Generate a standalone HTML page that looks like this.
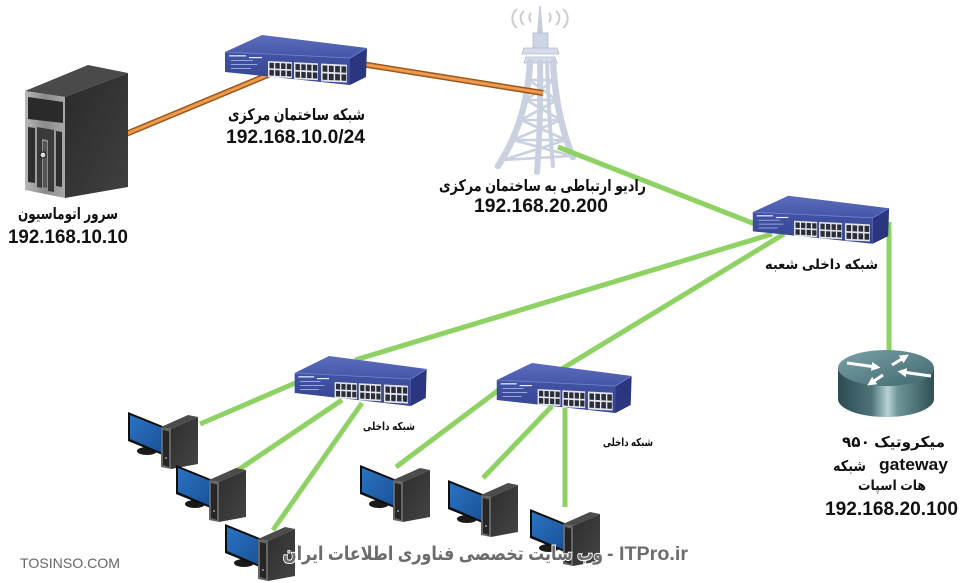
<!DOCTYPE html>
<html><head><meta charset="utf-8"><style>
html,body{margin:0;padding:0;background:#fff;}
svg{display:block;}
.fa{font-family:"Liberation Sans","DejaVu Sans",sans-serif;font-weight:bold;fill:#111;}
.ip{font-family:"Liberation Sans","DejaVu Sans",sans-serif;font-weight:bold;fill:#111;font-size:19px;}
</style></head><body>
<svg width="969" height="583" viewBox="0 0 969 583" xmlns="http://www.w3.org/2000/svg">
<defs>
  <linearGradient id="swTop" x1="0" y1="0" x2="0" y2="1"><stop offset="0" stop-color="#5b6cbc"/><stop offset="1" stop-color="#4556a8"/></linearGradient>
  <linearGradient id="swFront" x1="0" y1="0" x2="0" y2="1"><stop offset="0" stop-color="#4454a6"/><stop offset="1" stop-color="#34448f"/></linearGradient>
  <linearGradient id="rSide" x1="0" y1="0" x2="1" y2="0">
    <stop offset="0" stop-color="#2c4b51"/><stop offset="0.35" stop-color="#4d7479"/>
    <stop offset="0.52" stop-color="#b7d2d4"/><stop offset="0.62" stop-color="#6f969a"/>
    <stop offset="1" stop-color="#2f5055"/></linearGradient>
  <linearGradient id="rTop" x1="0" y1="0" x2="1" y2="1"><stop offset="0" stop-color="#7aa2a7"/><stop offset="1" stop-color="#3f676d"/></linearGradient>
  <linearGradient id="srvSide" x1="0" y1="0" x2="1" y2="1"><stop offset="0" stop-color="#2a2a2a"/><stop offset="1" stop-color="#404040"/></linearGradient>
  <linearGradient id="srvFront" x1="0" y1="0" x2="1" y2="0"><stop offset="0" stop-color="#b8b8b8"/><stop offset="0.5" stop-color="#8a8a8a"/><stop offset="1" stop-color="#a8a8a8"/></linearGradient>
  <linearGradient id="scr" x1="0" y1="0" x2="1" y2="1"><stop offset="0" stop-color="#2a74c4"/><stop offset="1" stop-color="#1a4f94"/></linearGradient>
  <linearGradient id="pcSide" x1="0" y1="0" x2="1" y2="1"><stop offset="0" stop-color="#2e2e2e"/><stop offset="1" stop-color="#444"/></linearGradient>
  <marker id="ah" viewBox="0 0 10 10" refX="5" refY="5" markerWidth="3" markerHeight="3" orient="auto"><path d="M0,0 L10,5 L0,10 Z" fill="#fff"/></marker>

  <g id="ports">
    <rect x="0" y="0" width="24" height="16" fill="#e2e5ee"/>
    <rect x="1.5" y="1.6" width="4.4" height="5.6" fill="#2a2c36"/>
    <rect x="7.3" y="1.6" width="4.4" height="5.6" fill="#2a2c36"/>
    <rect x="13.1" y="1.6" width="4.4" height="5.6" fill="#2a2c36"/>
    <rect x="18.9" y="1.6" width="4.4" height="5.6" fill="#2a2c36"/>
    <rect x="1.5" y="8.8" width="4.4" height="5.6" fill="#2a2c36"/>
    <rect x="7.3" y="8.8" width="4.4" height="5.6" fill="#2a2c36"/>
    <rect x="13.1" y="8.8" width="4.4" height="5.6" fill="#2a2c36"/>
    <rect x="18.9" y="8.8" width="4.4" height="5.6" fill="#2a2c36"/>
  </g>

  <g id="sw">
    <polygon points="5,22 42,5 147,18 130,28" fill="url(#swTop)"/>
    <polygon points="5,22 130,28 130,55 5,42" fill="url(#swFront)"/>
    <polygon points="130,28 147,18 146,47 130,55" fill="#2a3680"/>
    <polyline points="5,22 130,28 147,18" stroke="#7284d0" stroke-width="0.8" fill="none"/>
    <rect x="9" y="25" width="17" height="1.6" fill="#c2cbf2"/>
    <rect x="29" y="27" width="13" height="1.2" fill="#e8ecff"/>
    <rect x="11" y="30" width="22" height="1" fill="#9aa6de"/>
    <rect x="11" y="34" width="26" height="1" fill="#9aa6de"/>
    <rect x="11" y="38" width="20" height="1" fill="#9aa6de"/>
    <use href="#ports" transform="translate(48,31) skewY(2.7)"/>
    <use href="#ports" transform="translate(74,32.2) skewY(2.7) scale(1,1.06)"/>
    <use href="#ports" transform="translate(101,33.5) skewY(2.7) scale(1.08,1.12)"/>
  </g>

  <g id="pc">
    <ellipse cx="19" cy="39" rx="10" ry="4" fill="#1a1a1a"/>
    <polygon points="0,0 37,15 37,44 0,29" fill="#0e0e0e"/>
    <polygon points="2,3 37,17 37,42 2,27" fill="url(#scr)"/>
    <polygon points="33,15 60,3 70,5 43,17" fill="#4c4c4c"/>
    <polygon points="33,15 43,17 43,57 33,55" fill="#666"/>
    <polygon points="35,18 41,19.5 41,55 35,53" fill="#262626"/>
    <polygon points="43,17 70,5 70,52 43,57" fill="url(#pcSide)"/>
    <circle cx="38" cy="46" r="0.9" fill="#bbb"/>
  </g>
</defs>

<!-- tower -->
<g fill="none" stroke="#cccccc" stroke-width="2">
  <path d="M517,9 A12,12 0 0 0 517,28"/>
  <path d="M524,11 A9,9 0 0 0 524,25"/>
  <path d="M531,13 A7,7 0 0 0 531,22"/>
  <path d="M563,9 A12,12 0 0 1 563,28"/>
  <path d="M556,11 A9,9 0 0 1 556,25"/>
  <path d="M549,13 A7,7 0 0 1 549,22"/>
</g>
<polygon points="539.3,6 540.7,6 543,34 537,34" fill="#c5cddd"/>
<rect x="533" y="33" width="15" height="15" fill="#cdd5e5" stroke="#b3bccd" stroke-width="0.8"/>
<polygon points="524,48 557,48 559,54 522,54" fill="#d6dcea" stroke="#b3bccd" stroke-width="0.8"/>
<polygon points="526,57 555,57 557,63 524,63" fill="#d6dcea" stroke="#b3bccd" stroke-width="0.8"/>
<g fill="none" stroke="#c9d1e0" stroke-linecap="round">
  <path d="M530,62 Q527,122 498,166" stroke-width="6.5"/>
  <path d="M553,62 Q556,117 573,157" stroke-width="6.5"/>
  <path d="M540,62 Q541,122 537,172" stroke-width="6"/>
  <path d="M547,62 Q549,120 553,166" stroke-width="4"/>
  <g stroke-width="2.6">
    <line x1="529" y1="80" x2="554" y2="80"/>
    <line x1="526" y1="100" x2="557" y2="100"/>
    <line x1="521" y1="120" x2="561" y2="120"/>
    <line x1="513" y1="140" x2="566" y2="140"/>
    <line x1="503" y1="160" x2="572" y2="156"/>
    <line x1="529" y1="80" x2="557" y2="100"/>
    <line x1="554" y1="80" x2="526" y2="100"/>
    <line x1="526" y1="100" x2="561" y2="120"/>
    <line x1="557" y1="100" x2="521" y2="120"/>
    <line x1="521" y1="120" x2="566" y2="140"/>
    <line x1="561" y1="120" x2="513" y2="140"/>
    <line x1="513" y1="140" x2="572" y2="156"/>
    <line x1="566" y1="140" x2="503" y2="160"/>
  </g>
</g>

<!-- orange links -->
<g stroke-linecap="butt">
  <line x1="126" y1="134" x2="275" y2="72" stroke="#9c561c" stroke-width="6"/>
  <line x1="126" y1="134" x2="275" y2="72" stroke="#ee9a4c" stroke-width="3"/>
  <line x1="355" y1="63" x2="543" y2="93" stroke="#9c561c" stroke-width="6"/>
  <line x1="355" y1="63" x2="543" y2="93" stroke="#ee9a4c" stroke-width="3"/>
</g>

<!-- green links -->
<g stroke="#8fd264" stroke-width="5" stroke-linecap="butt">
  <line x1="558" y1="147" x2="760" y2="226"/>
  <line x1="772" y1="234" x2="355" y2="360"/>
  <line x1="784" y1="234" x2="560" y2="370"/>
  <line x1="889" y1="222" x2="889" y2="352"/>
  <line x1="300" y1="381" x2="200" y2="424"/>
  <line x1="342" y1="400" x2="238" y2="470"/>
  <line x1="362" y1="403" x2="273" y2="530"/>
  <line x1="500" y1="389" x2="396" y2="467"/>
  <line x1="552" y1="406" x2="483" y2="478"/>
  <line x1="565" y1="408" x2="565" y2="507"/>
</g>

<!-- switches -->
<use href="#sw" transform="translate(220,30)"/>
<use href="#sw" transform="translate(748,191) scale(0.96)"/>
<use href="#sw" transform="translate(290,351) scale(0.93,1)"/>
<use href="#sw" transform="translate(492,358) scale(0.95,1)"/>

<!-- PCs -->
<use href="#pc" transform="translate(128,412)"/>
<use href="#pc" transform="translate(176,465)"/>
<use href="#pc" transform="translate(225,524)"/>
<use href="#pc" transform="translate(360,465)"/>
<use href="#pc" transform="translate(448,480)"/>
<use href="#pc" transform="translate(530,509)"/>

<!-- server -->
<polygon points="25,91 88,65 128,73 65,97" fill="#4a4a4a"/>
<polygon points="65,97 128,73 128,187 65,198" fill="url(#srvSide)"/>
<polygon points="25,91 65,97 65,198 25,190" fill="url(#srvFront)"/>
<polygon points="28,97 63,102 63,123 28,119" fill="#2a2a2a"/>
<polygon points="28,127 35,128 35,183 28,182" fill="#2e2e2e"/>
<polygon points="37,127 54,130 54,192 48,191 48,140 42,139 42,188 37,187" fill="#3a3a3a"/>
<polygon points="56,131 62,132 62,187 56,186" fill="#2e2e2e"/>
<polygon points="43,141 47,142 47,188 43,187" fill="#555"/>
<circle cx="43" cy="155" r="3" fill="#ddd" stroke="#222" stroke-width="1.2"/>

<!-- router -->
<ellipse cx="886" cy="399" rx="48" ry="18" fill="url(#rSide)"/>
<rect x="838" y="368" width="96" height="31" fill="url(#rSide)"/>
<ellipse cx="886" cy="368" rx="48" ry="18" fill="url(#rTop)"/>
<g stroke="#fff" stroke-width="3" marker-end="url(#ah)" fill="none">
  <line x1="847" y1="363" x2="876" y2="367"/>
  <line x1="892" y1="365" x2="905" y2="357"/>
  <line x1="931" y1="376" x2="902" y2="372"/>
  <line x1="883" y1="375" x2="871" y2="383"/>
</g>

<!-- labels -->
<text class="fa" x="18" y="219" font-size="16" textLength="100" lengthAdjust="spacingAndGlyphs">سرور اتوماسیون</text>
<text class="ip" x="8" y="243" textLength="120" lengthAdjust="spacingAndGlyphs">192.168.10.10</text>
<text class="fa" x="228" y="120" font-size="16" textLength="137" lengthAdjust="spacingAndGlyphs">شبکه ساختمان مرکزی</text>
<text class="ip" x="226" y="143" textLength="139" lengthAdjust="spacingAndGlyphs">192.168.10.0/24</text>
<text class="fa" x="439" y="191" font-size="16" textLength="207" lengthAdjust="spacingAndGlyphs">رادیو ارتباطی به ساختمان مرکزی</text>
<text class="ip" x="474" y="212" textLength="134" lengthAdjust="spacingAndGlyphs">192.168.20.200</text>
<text class="fa" x="765" y="269" font-size="14" textLength="113" lengthAdjust="spacingAndGlyphs">شبکه داخلی شعبه</text>
<text class="fa" x="363" y="430" font-size="11" textLength="52" lengthAdjust="spacingAndGlyphs">شبکه داخلی</text>
<text class="fa" x="603" y="446" font-size="11" textLength="50" lengthAdjust="spacingAndGlyphs">شبکه داخلی</text>
<text class="fa" x="842" y="447" font-size="15" textLength="103" lengthAdjust="spacingAndGlyphs">میکروتیک ۹۵۰</text>
<text class="fa" x="833" y="471" font-size="15" textLength="33" lengthAdjust="spacingAndGlyphs">شبکه</text>
<text class="ip" x="879" y="470" style="font-size:17px" textLength="69" lengthAdjust="spacingAndGlyphs">gateway</text>
<text class="fa" x="858" y="490" font-size="14" textLength="68" lengthAdjust="spacingAndGlyphs">هات اسپات</text>
<text class="ip" x="825" y="515" textLength="133" lengthAdjust="spacingAndGlyphs">192.168.20.100</text>

<text x="20" y="568" font-family="Liberation Sans, sans-serif" font-size="14" fill="#666" textLength="100" lengthAdjust="spacingAndGlyphs">TOSINSO.COM</text>
<g font-family="Liberation Sans, DejaVu Sans, sans-serif" font-weight="bold" font-size="19" fill="#6c6c6c" stroke="#fff" stroke-width="2" paint-order="stroke">
  <text x="283" y="560" textLength="320" lengthAdjust="spacingAndGlyphs">وب سایت تخصصی فناوری اطلاعات ایران</text>
  <text x="607" y="560" textLength="81" lengthAdjust="spacingAndGlyphs">- ITPro.ir</text>
</g>
</svg>
</body></html>
